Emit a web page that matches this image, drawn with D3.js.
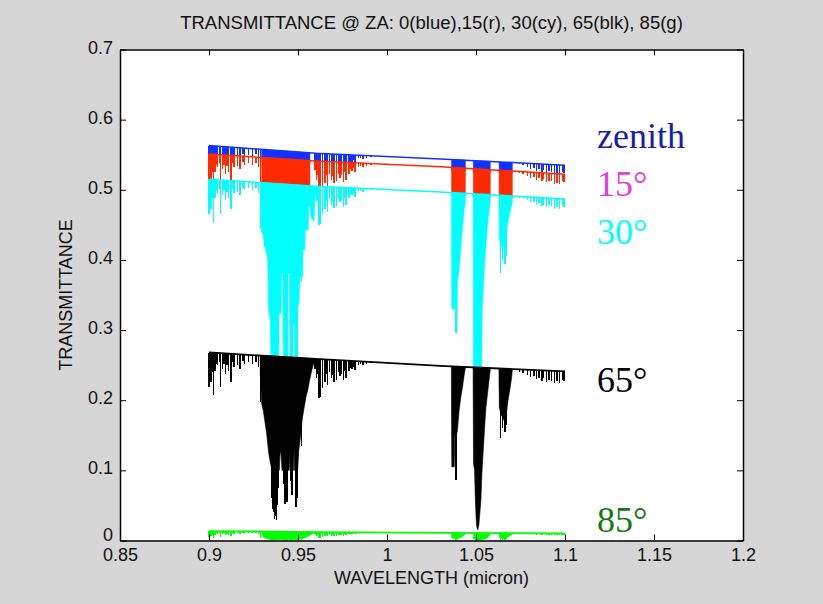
<!DOCTYPE html>
<html><head><meta charset="utf-8">
<script src="https://cdn.jsdelivr.net/npm/d3@7"></script>
<style>body{margin:0;background:#d6d6d6;} svg{display:block}</style>
</head><body><svg id="c" width="823" height="604"></svg>
<script>
// ---- axis ticks ----
const xTicks = [0.85, 0.9, 0.95, 1.0, 1.05, 1.1, 1.15, 1.2];
const xTickLabels = ["0.85", "0.9", "0.95", "1", "1.05", "1.1", "1.15", "1.2"];
const yTicks = [0, 0.1, 0.2, 0.3, 0.4, 0.5, 0.6, 0.7];
const yTickLabels = ["0", "0.1", "0.2", "0.3", "0.4", "0.5", "0.6", "0.7"];

// ---- continuum (line between absorption features), micron ----
const contWl = [0.9, 0.96, 1.03, 1.1];
const contBlue = [0.563, 0.552, 0.544, 0.535];
const contRed = [0.551, 0.541, 0.533, 0.522];
const contCyan = [0.515, 0.505, 0.497, 0.487];
const contBlack = [0.268, 0.259, 0.249, 0.241];
const contGreen = [0.0135, 0.012, 0.011, 0.010];

// ---- absorption line centres (micron) and minimum transmittance per zenith angle ----
const lineWl = [
  0.9000,0.9011,0.9024,0.9034,0.9049,0.9066,0.9077,0.9094,0.9111,0.9124,0.9140,0.9159,0.9174,0.9199,0.9221,0.9245,0.9264,0.9279,
  0.9352,0.9358,0.9363,0.9368,0.9373,0.9378,0.9383,0.9389,0.9419,0.9424,0.9428,0.9434,0.9439,0.9457,0.9462,0.9467,0.9485,0.9489,0.9494,0.9520,
  0.9605,0.9618,0.9628,0.9639,0.9652,0.9667,0.9689,0.9702,0.9717,0.9736,0.9755,0.9770,0.9787,0.9803,0.9820,0.9839,0.9865,0.9885,0.9910,
  1.0388,1.0391,
  1.0636,1.0648,1.0664,1.0668,
  1.0745,1.0765,1.0790,1.0805,1.0825,1.0840,1.0855,1.0870,1.0880,1.0895,1.0910,1.0925,1.0940,1.0955,1.0970,1.0985,1.0995,
  0.9005,0.9018,0.9040,0.9058,0.9085,0.9102,0.9132,0.9190,0.9290,
  0.9596,0.9612,0.9660,0.9678,0.9695,0.9727,0.9745,0.9762,0.9795,0.9812,0.9850
];
const blueMin = [
  0.516,0.523,0.504,0.537,0.545,0.516,0.541,0.534,0.537,0.523,0.544,0.546,0.541,0.548,0.550,0.548,0.551,0.544,
  0.298,0.265,0.252,0.223,0.238,0.219,0.276,0.328,0.337,0.298,0.282,0.292,0.288,0.346,0.319,0.309,0.288,0.270,0.298,0.420,
  0.526,0.499,0.501,0.513,0.521,0.518,0.527,0.522,0.525,0.529,0.524,0.527,0.536,0.540,0.538,0.545,0.544,0.546,0.547,
  0.348,0.354,
  0.434,0.451,0.445,0.457,
  0.5366,0.5360,0.5326,0.5299,0.5309,0.5273,0.5293,0.5255,0.5285,0.5237,0.5262,0.5252,0.5212,0.5233,0.5215,0.5258,0.5243,
  0.533,0.538,0.548,0.550,0.548,0.546,0.550,0.551,0.494,
  0.539,0.533,0.5325,0.5346,0.531,0.5345,0.5326,0.5365,0.540,0.542,0.546
];
const redMin = [
  0.504,0.511,0.492,0.525,0.533,0.504,0.529,0.522,0.525,0.511,0.532,0.534,0.529,0.535,0.538,0.535,0.538,0.532,
  0.286,0.252,0.239,0.211,0.226,0.208,0.264,0.316,0.324,0.286,0.270,0.280,0.275,0.333,0.306,0.297,0.275,0.258,0.286,0.407,
  0.514,0.486,0.488,0.500,0.509,0.505,0.514,0.509,0.512,0.517,0.511,0.514,0.523,0.527,0.526,0.532,0.532,0.534,0.535,
  0.335,0.341,
  0.421,0.438,0.432,0.444,
  0.5237,0.5228,0.5196,0.5169,0.5180,0.5143,0.5163,0.5125,0.5155,0.5106,0.5132,0.5121,0.5081,0.5103,0.5085,0.5128,0.5113,
  0.520,0.525,0.536,0.538,0.536,0.534,0.538,0.539,0.482,
  0.528,0.5215,0.521,0.523,0.519,0.523,0.5213,0.5253,0.529,0.531,0.5344
];
const cyanMin = [
  0.466,0.473,0.453,0.488,0.496,0.466,0.492,0.485,0.488,0.473,0.495,0.497,0.492,0.499,0.502,0.499,0.502,0.495,
  0.248,0.216,0.203,0.177,0.191,0.174,0.227,0.277,0.286,0.248,0.240,0.245,0.237,0.294,0.267,0.258,0.237,0.222,0.248,0.368,
  0.482,0.450,0.451,0.465,0.473,0.469,0.479,0.474,0.477,0.482,0.476,0.478,0.488,0.493,0.490,0.498,0.497,0.500,0.500,
  0.296,0.302,
  0.382,0.400,0.394,0.406,
  0.489,0.488,0.485,0.482,0.483,0.479,0.481,0.477,0.479,0.475,0.478,0.477,0.472,0.475,0.473,0.477,0.476,
  0.483,0.488,0.499,0.501,0.4995,0.497,0.5015,0.503,0.444,
  0.4915,0.485,0.4845,0.487,0.4825,0.487,0.485,0.489,0.4927,0.4946,0.4985
];
const blackMin = [
  0.219,0.226,0.207,0.241,0.250,0.219,0.245,0.238,0.241,0.226,0.248,0.250,0.245,0.252,0.255,0.252,0.255,0.248,
  0.060,0.045,0.040,0.030,0.035,0.029,0.050,0.075,0.080,0.060,0.052,0.058,0.055,0.085,0.070,0.065,0.055,0.048,0.060,0.135,
  0.231,0.203,0.205,0.217,0.226,0.222,0.231,0.226,0.229,0.234,0.229,0.231,0.241,0.245,0.243,0.250,0.250,0.252,0.253,
  0.086,0.090,
  0.146,0.160,0.155,0.165,
  0.240,0.239,0.236,0.233,0.234,0.230,0.232,0.228,0.231,0.226,0.229,0.228,0.224,0.227,0.225,0.229,0.227,
  0.235,0.240,0.252,0.254,0.252,0.250,0.254,0.256,0.198,
  0.245,0.238,0.238,0.240,0.236,0.240,0.238,0.242,0.246,0.248,0.252
];
const greenMin = [
  0.0051,0.0059,0.0039,0.0081,0.0097,0.0051,0.0089,0.0078,0.0083,0.0061,0.0096,0.0100,0.0091,0.0106,0.0112,0.0107,0.0114,0.0099,
  0.0001,0.0001,0.0001,0.0001,0.0001,0.0001,0.0001,0.0001,0.0001,0.0001,0.0001,0.0001,0.0001,0.0001,0.0001,0.0001,0.0001,0.0001,0.0001,0.0005,
  0.0070,0.0037,0.0039,0.0052,0.0063,0.0058,0.0071,0.0064,0.0068,0.0076,0.0068,0.0072,0.0089,0.0097,0.0094,0.0108,0.0108,0.0113,0.0116,
  0.0001,0.0001,
  0.0009,0.0013,0.0012,0.0016,
  0.0099,0.0098,0.0093,0.0088,0.0090,0.0083,0.0087,0.0080,0.0086,0.0077,0.0083,0.0082,0.0075,0.0081,0.0078,0.0085,0.0081,
  0.0072,0.0079,0.0100,0.0104,0.0102,0.0098,0.0106,0.0110,0.0032,
  0.0092,0.0080,0.0080,0.0084,0.0078,0.0085,0.0082,0.0089,0.0096,0.0101,0.0109
];

// ---- saturated absorption bands: [wavelength, lower edge of the filled band] ----
const blueBands = [
  [[0.9296,0.541],[0.9567,0.537]],
  [[1.0363,0.527],[1.0440,0.527]],
  [[1.0485,0.526],[1.0580,0.525]],
  [[1.0630,0.524],[1.0704,0.523]]
];
const redBands = [
  [[0.9296,0.507],[0.9567,0.503]],
  [[1.0363,0.493],[1.0440,0.492]],
  [[1.0485,0.491],[1.0580,0.490]],
  [[1.0630,0.489],[1.0704,0.488]]
];
const cyanBands = [
  [[0.9290,0.500],[0.9296,0.440],[0.9305,0.435],[0.9310,0.420],[0.9320,0.414],[0.9330,0.400],[0.9335,0.330],[0.9345,0.312],
   [0.9350,0.200],[0.9390,0.200],[0.9393,0.324],[0.9405,0.324],[0.9408,0.381],[0.9416,0.381],[0.9418,0.200],[0.9440,0.200],
   [0.9442,0.381],[0.9452,0.381],[0.9455,0.200],[0.9470,0.200],[0.9472,0.310],[0.9480,0.310],[0.9483,0.200],[0.9496,0.200],
   [0.9498,0.330],[0.9505,0.340],[0.9511,0.376],[0.9526,0.376],[0.9528,0.414],[0.9538,0.414],[0.9540,0.443],[0.9558,0.443],
   [0.9560,0.476],[0.9568,0.476],[0.9575,0.460],[0.9590,0.455],[0.9597,0.495],[0.9602,0.503]],
  [[1.0362,0.490],[1.0364,0.330],[1.0380,0.330],[1.0383,0.360],[1.0388,0.296],[1.0393,0.296],[1.0396,0.370],[1.0405,0.385],
   [1.0415,0.420],[1.0425,0.450],[1.0433,0.470],[1.0440,0.483]],
  [[1.0484,0.490],[1.0486,0.200],[1.0530,0.200],[1.0535,0.330],[1.0545,0.380],[1.0555,0.420],[1.0565,0.450],[1.0573,0.470],[1.0580,0.483]],
  [[1.0629,0.488],[1.0631,0.430],[1.0640,0.420],[1.0650,0.415],[1.0660,0.425],[1.0670,0.440],[1.0680,0.455],[1.0690,0.468],[1.0700,0.478],[1.0704,0.482]]
];
const blackBands = [
  [[0.9288,0.240],[0.9296,0.195],[0.9305,0.185],[0.9315,0.168],[0.9325,0.150],[0.9335,0.125],[0.9345,0.110],[0.9355,0.100],
   [0.9395,0.100],[0.9400,0.130],[0.9405,0.120],[0.9410,0.100],[0.9450,0.100],[0.9452,0.125],[0.9455,0.100],[0.9475,0.100],
   [0.9478,0.130],[0.9481,0.100],[0.9498,0.100],[0.9505,0.130],[0.9515,0.150],[0.9525,0.175],[0.9535,0.190],[0.9545,0.205],
   [0.9555,0.215],[0.9565,0.228],[0.9575,0.240],[0.9585,0.250],[0.9596,0.258]],
  [[1.0362,0.220],[1.0364,0.105],[1.0378,0.105],[1.0381,0.150],[1.0386,0.150],[1.0395,0.155],[1.0405,0.185],[1.0415,0.205],
   [1.0425,0.220],[1.0433,0.235],[1.0440,0.246]],
  [[1.0484,0.230],[1.0486,0.110],[1.0492,0.100],[1.0496,0.060],[1.0500,0.035],[1.0504,0.020],[1.0510,0.015],[1.0516,0.022],
   [1.0522,0.040],[1.0528,0.060],[1.0533,0.095],[1.0540,0.125],[1.0548,0.160],[1.0556,0.190],[1.0565,0.210],[1.0573,0.228],[1.0580,0.243]],
  [[1.0629,0.235],[1.0631,0.190],[1.0640,0.180],[1.0650,0.175],[1.0660,0.170],[1.0670,0.180],[1.0680,0.200],[1.0690,0.215],[1.0700,0.232],[1.0704,0.243]]
];
const greenBands = [
  [[0.9296,0.011],[0.9300,0.006],[0.9320,0.003],[0.9350,0.001],[0.9500,0.001],[0.9540,0.004],[0.9570,0.008],[0.9590,0.011]],
  [[1.0363,0.004],[1.0395,0.002],[1.0420,0.005],[1.0440,0.009]],
  [[1.0485,0.003],[1.0500,0.0005],[1.0540,0.001],[1.0565,0.004],[1.0580,0.009]],
  [[1.0630,0.005],[1.0650,0.003],[1.0680,0.005],[1.0704,0.009]]
];

// ---- labels ----
const titleText = "TRANSMITTANCE @ ZA: 0(blue),15(r), 30(cy), 65(blk), 85(g)";
const xLabel = "WAVELENGTH (micron)";
const yLabel = "TRANSMITTANCE";
const angleLabels = ["zenith", "15°", "30°", "65°", "85°"];

// ---- drawing ----
const sansF = '"Liberation Sans", Arial, Helvetica, sans-serif';
const serifF = '"Liberation Serif", "Times New Roman", serif';
const L = 120, R = 743, T = 49.5, B = 540.5;
const x = d3.scaleLinear().domain([0.85, 1.2]).range([L, R]);
const y = d3.scaleLinear().domain([0, 0.7]).range([B, T]);
const svg = d3.select('#c');

svg.append('rect').attr('x', L).attr('y', T).attr('width', R - L).attr('height', B - T).attr('fill', '#fff');
svg.append('clipPath').attr('id', 'clip').append('rect')
  .attr('x', L).attr('y', T).attr('width', R - L).attr('height', B - T);
const plot = svg.append('g').attr('clip-path', 'url(#clip)');

const series = [
  { color: '#1432ff', cont: contBlue, mins: blueMin, bands: blueBands, lw: 1.5 },
  { color: '#ff2a00', cont: contRed, mins: redMin, bands: redBands, lw: 1.5 },
  { color: '#00ffff', cont: contCyan, mins: cyanMin, bands: cyanBands, lw: 1.5 },
  { color: '#000000', cont: contBlack, mins: blackMin, bands: blackBands, lw: 1.8 },
  { color: '#00ff00', cont: contGreen, mins: greenMin, bands: greenBands, lw: 1.8 }
];

series.forEach(s => {
  const c = d3.scaleLinear().domain(contWl).range(s.cont);
  const g = plot.append('g');
  const area = d3.area().x(d => x(d[0])).y0(d => y(c(d[0]))).y1(d => y(d[1]));
  g.selectAll('path.band').data(s.bands).join('path').attr('class', 'band')
    .attr('d', area).attr('fill', s.color).attr('stroke', s.color).attr('stroke-width', 0.6);
  g.append('path')
    .attr('d', lineWl.map((w, i) => `M${x(w)},${y(c(w))}V${y(s.mins[i])}`).join(''))
    .attr('stroke', s.color).attr('stroke-width', 1.4).attr('fill', 'none')
    .attr('shape-rendering', 'crispEdges');
  g.append('path').datum(contWl.map((w, i) => [w, s.cont[i]]))
    .attr('d', d3.line().x(d => x(d[0])).y(d => y(d[1])))
    .attr('stroke', s.color).attr('stroke-width', s.lw).attr('fill', 'none');
});

function styleAxis(g) {
  g.attr('font-size', 18).attr('font-family', sansF);
  g.select('.domain').attr('stroke', '#000').attr('stroke-width', 1.5);
  g.selectAll('.tick line').attr('stroke', '#000').attr('stroke-width', 1);
  g.selectAll('.tick text').attr('fill', '#111');
}
svg.append('g').attr('transform', `translate(0,${B})`)
  .call(d3.axisBottom(x).tickValues(xTicks).tickFormat((d, i) => xTickLabels[i]).tickSizeInner(-6).tickSizeOuter(0).tickPadding(8))
  .call(styleAxis);
svg.append('g').attr('transform', `translate(0,${T})`)
  .call(d3.axisTop(x).tickValues(xTicks).tickFormat(() => '').tickSizeInner(-6).tickSizeOuter(0))
  .call(styleAxis);
const gl = svg.append('g').attr('transform', `translate(${L},0)`)
  .call(d3.axisLeft(y).tickValues(yTicks).tickFormat((d, i) => yTickLabels[i]).tickSizeInner(-6).tickSizeOuter(0).tickPadding(7))
  .call(styleAxis);
gl.selectAll('.tick text').attr('dy', (d, i) => i === 0 ? '0em' : '0.2em');
svg.append('g').attr('transform', `translate(${R},0)`)
  .call(d3.axisRight(y).tickValues(yTicks).tickFormat(() => '').tickSizeInner(-6).tickSizeOuter(0))
  .call(styleAxis);

svg.append('text').attr('x', (L + R) / 2).attr('y', 29).attr('text-anchor', 'middle')
  .attr('font-family', sansF).attr('font-size', 18.5).attr('fill', '#111').text(titleText);
svg.append('text').attr('x', (L + R) / 2).attr('y', 584).attr('text-anchor', 'middle')
  .attr('font-family', sansF).attr('font-size', 18).attr('fill', '#111').text(xLabel);
svg.append('text').attr('transform', `translate(72,${(T + B) / 2}) rotate(-90)`).attr('text-anchor', 'middle')
  .attr('font-family', sansF).attr('font-size', 18).attr('fill', '#111').text(yLabel);

const angleColors = ['#1a1ea8', '#e040dc', '#00ffff', '#000000', '#147814'];
const angleBaselines = [148, 196, 244, 392, 532];
svg.selectAll('text.ang').data(angleLabels).join('text').attr('class', 'ang')
  .attr('x', 597).attr('y', (d, i) => angleBaselines[i])
  .attr('font-family', serifF).attr('font-size', 36).attr('fill', (d, i) => angleColors[i])
  .text(d => d);
</script></body></html>
